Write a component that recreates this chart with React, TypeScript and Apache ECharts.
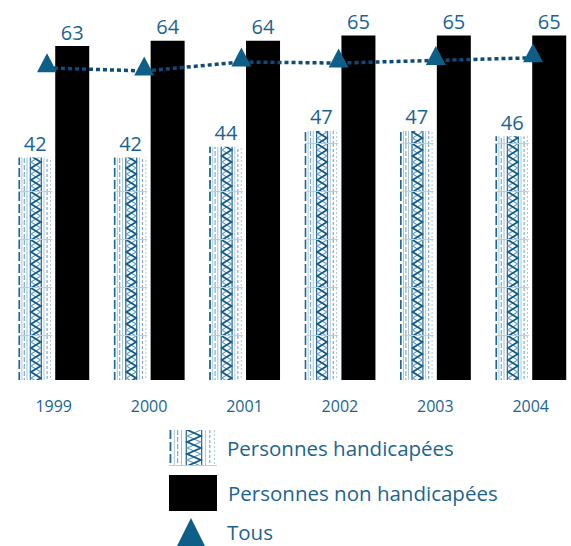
import React, { useEffect, useRef } from "react";
import * as echarts from "echarts";

const years = ["1999", "2000", "2001", "2002", "2003", "2004"];
const handicapees = [42, 42, 44, 47, 47, 46];
const nonHandicapees = [63, 64, 64, 65, 65, 65];
const tous = [58.9, 58.3, 60.0, 59.8, 60.3, 60.8];
const seriesNames = ["Personnes handicapées", "Personnes non handicapées", "Tous"];

const TEXT = "#1b6491";
const FONT = "'Open Sans', 'Noto Sans', sans-serif";

function makeTile(canvasW: number, h: number, offsets: number[], contentW: number): HTMLCanvasElement {
  const c = document.createElement("canvas");
  c.width = canvasW;
  c.height = h;
  const g = c.getContext("2d") as CanvasRenderingContext2D;
  g.fillStyle = "#ffffff";
  g.fillRect(0, 0, canvasW, h);
  const w = contentW;
  offsets.forEach((ox) => {
    const X = (f: number) => ox + f * w;
    const vline = (fx: number, color: string, lw: number, dash: number[] = []) => {
      g.save();
      g.strokeStyle = color;
      g.lineWidth = lw;
      g.setLineDash(dash);
      g.beginPath();
      g.moveTo(X(fx), 0);
      g.lineTo(X(fx), h);
      g.stroke();
      g.restore();
    };
    vline(0.03, "#1d6894", 1.8, [9, 3]);
    vline(0.11, "#a9c8db", 1);
    vline(0.18, "#7fadc9", 1.2, [5, 2]);
    vline(0.26, "#9dc0d6", 1);
    vline(0.36, "#2a6f99", 1.3);
    vline(0.68, "#2a6f99", 1.3);
    vline(0.76, "#a9c8db", 1);
    vline(0.85, "#7fadc9", 1.2, [3, 2]);
    vline(0.95, "#a9c8db", 1, [2, 2]);
    const xl = X(0.38);
    const xr = X(0.66);
    const p = 12;
    const zig = (start: number, color: string, lw: number) => {
      g.save();
      g.strokeStyle = color;
      g.lineWidth = lw;
      g.beginPath();
      let left = start === 0;
      g.moveTo(left ? xl : xr, 0);
      for (let y = p / 2; y <= h + 0.1; y += p / 2) {
        left = !left;
        g.lineTo(left ? xl : xr, y);
      }
      g.stroke();
      g.restore();
    };
    zig(1, "#6fa2c3", 1.2);
    zig(0, "#145d8a", 1.9);
    g.save();
    g.strokeStyle = "#b6d0e0";
    g.lineWidth = 1;
    g.beginPath();
    g.moveTo(X(0), h - 0.5);
    g.lineTo(X(1), h - 0.5);
    g.stroke();
    g.restore();
  });
  return c;
}

export default function App() {
  const ref = useRef<HTMLDivElement>(null);
  useEffect(() => {
    if (!ref.current) return;
    const chart = echarts.init(ref.current, null, { renderer: "svg" });
    const gridLeft = 6;
    const gridWidth = 572.4;
    const band = gridWidth / years.length;
    const barW = 34;
    const gapPct = 9;
    const total = barW * 2 + (barW * gapPct) / 100;
    const firstBarX = gridLeft + band / 2 - total / 2;
    const tileW = Math.round(band * 5);
    const offsets: number[] = [];
    for (let k = 0; k < 5; k++) offsets.push((firstBarX + k * band) % tileW);
    const barTile = makeTile(tileW, 48, offsets, barW);
    const legendTile = makeTile(48, 36, [0], 48);
    const barPattern: any = { image: barTile, repeat: "repeat" };
    const legendPattern: any = { image: legendTile, repeat: "repeat" };
    const labelStyle = {
      show: true,
      position: "top" as const,
      color: TEXT,
      fontSize: 20,
      fontFamily: FONT,
      distance: 4,
    };
    const legendText = (left: number) => ({
      fontSize: 20.5,
      color: TEXT,
      fontFamily: FONT,
      padding: [0, 0, 0, left],
    });
    chart.setOption({
      animation: false,
      textStyle: { fontFamily: FONT },
      grid: [
        { left: gridLeft, top: 9, width: gridWidth, height: 371, outerBoundsMode: "none", containLabel: false },
        { left: 47, top: 9, width: 486, height: 371, outerBoundsMode: "none", containLabel: false },
      ],
      xAxis: [
        {
          type: "category",
          gridIndex: 0,
          data: years,
          axisLine: { show: false },
          axisTick: { show: false },
          splitLine: { show: false },
          axisLabel: { color: TEXT, fontSize: 16, margin: 18, fontFamily: FONT },
        },
        { type: "category", gridIndex: 1, data: years, boundaryGap: false, show: false },
      ],
      yAxis: [
        { type: "value", gridIndex: 0, min: 0, max: 70, show: false },
        { type: "value", gridIndex: 1, min: 0, max: 70, show: false },
      ],
      legend: [
        {
          data: [{ name: seriesNames[0], itemStyle: { color: legendPattern } }],
          icon: "rect",
          left: 169,
          top: 430,
          padding: 0,
          itemWidth: 48,
          itemHeight: 36,
          selectedMode: false,
          textStyle: legendText(5),
        },
        {
          data: [seriesNames[1]],
          icon: "rect",
          left: 169,
          top: 475,
          padding: 0,
          itemWidth: 48,
          itemHeight: 36,
          selectedMode: false,
          textStyle: legendText(6),
        },
        {
          data: [{ name: seriesNames[2], icon: "triangle" }],
          left: 177,
          top: 518,
          padding: 0,
          itemWidth: 28,
          itemHeight: 28,
          selectedMode: false,
          textStyle: legendText(17),
        },
      ],
      series: [
        {
          name: seriesNames[0],
          type: "bar",
          xAxisIndex: 0,
          yAxisIndex: 0,
          data: handicapees,
          barWidth: barW,
          barGap: gapPct + "%",
          itemStyle: { color: barPattern },
          label: labelStyle,
          silent: true,
        },
        {
          name: seriesNames[1],
          type: "bar",
          xAxisIndex: 0,
          yAxisIndex: 0,
          data: nonHandicapees,
          barWidth: barW,
          barGap: gapPct + "%",
          itemStyle: { color: "#000000" },
          label: labelStyle,
          silent: true,
        },
        {
          name: seriesNames[2],
          type: "line",
          xAxisIndex: 1,
          yAxisIndex: 1,
          data: tous,
          symbol: "triangle",
          symbolSize: [20, 19],
          symbolOffset: [0, -5],
          itemStyle: { color: "#0e5f88" },
          lineStyle: { color: "#0b4b7d", width: 3.5, type: [4, 3] },
          z: 5,
          silent: true,
        },
      ],
    });
    return () => chart.dispose();
  }, []);
  return (
    <div
      ref={ref}
      style={{ position: "fixed", left: 0, top: 0, width: 571, height: 546, background: "#fff" }}
    />
  );
}
